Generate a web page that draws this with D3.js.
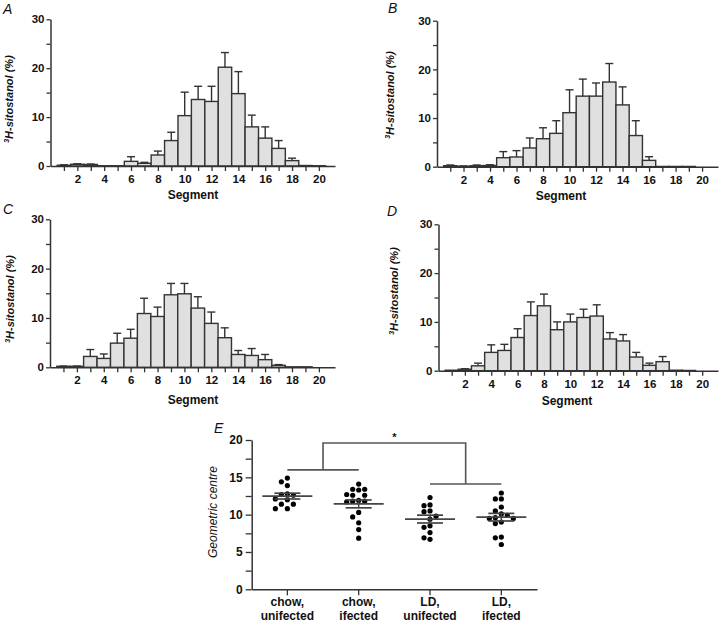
<!DOCTYPE html>
<html>
<head>
<meta charset="utf-8">
<script src="https://cdn.jsdelivr.net/npm/d3@7/dist/d3.min.js"></script>
<style>
  html, body { margin: 0; padding: 0; background: #fff; }
  svg { display: block; font-family: "Liberation Sans", Arial, sans-serif; }
</style>
</head>
<body>
<svg id="chart" width="720" height="624"></svg>
<script>
// ---------------- DATA ----------------
const segments = [1,2,3,4,5,6,7,8,9,10,11,12,13,14,15,16,17,18,19,20];
const segmentTickLabels = [2,4,6,8,10,12,14,16,18,20];
const histTicks = [0,5,10,15,20,25,30];
const histTickLabels = [0,10,20,30];

const meanA = [0.15,0.35,0.3,0.05,0.05,0.95,0.55,2.25,5.2,10.3,13.6,13.2,20.2,14.8,8.0,5.7,3.6,1.1,0.1,0.05];
const semA  = [0.1,0.1,0.1,0,0,0.95,0.2,0.8,1.7,4.8,2.7,3.1,3.0,4.5,2.4,2.3,1.6,0.5,0,0];

const meanB = [0.2,0.1,0.2,0.25,1.85,2.0,3.85,5.75,6.85,11.1,14.5,14.5,17.4,12.7,6.4,1.3,0.05,0.05,0.05,0];
const semB  = [0.15,0.05,0.15,0.15,1.25,1.3,2.05,2.25,2.6,4.7,3.5,2.7,3.8,3.7,3.05,0.75,0,0,0,0];

const meanC = [0.2,0.2,2.2,1.8,4.9,5.9,10.9,10.3,14.7,14.9,12.0,8.9,6.0,2.6,2.4,1.55,0.4,0.1,0.1,0];
const semC  = [0.05,0.05,1.4,0.9,2.0,1.8,3.1,1.9,2.3,2.1,2.3,2.3,2.0,0.8,1.4,1.05,0.15,0,0,0];

const meanD = [0.1,0.3,1.0,3.75,4.15,6.8,11.3,13.3,8.4,10.0,10.9,11.2,6.5,6.1,2.8,1.1,1.85,0.1,0.05,0];
const semD  = [0,0.1,0.55,1.55,1.25,1.8,2.8,2.4,1.6,1.6,1.7,2.3,1.3,1.3,0.95,0.45,1.05,0,0,0];

const groupLine1 = ["chow,","chow,","LD,","LD,"];
const groupLine2 = ["unifected","ifected","unifected","ifected"];
const groupKeys = ["chow, unifected","chow, ifected","LD, unifected","LD, ifected"];
const gcChowUninf = [14.9,14.4,13.9,12.8,12.7,12.6,12.1,12.0,11.4,11.4,10.8,10.8];
const gcChowInf   = [14.1,13.4,13.4,13.3,12.7,12.6,12.6,11.9,11.8,11.8,11.7,10.3,9.7,8.9,8.0,6.85];
const gcLDUninf   = [12.3,11.3,11.2,10.5,10.4,9.8,9.4,8.5,8.3,7.6,6.9,6.7];
const gcLDInf     = [12.9,12.1,12.1,11.0,10.5,10.1,9.9,9.6,9.5,9.5,9.0,8.8,7.0,6.9,6.0];
const gcTicks = [0,2.5,5,7.5,10,12.5,15,17.5,20];
const gcTickLabels = [0,5,10,15,20];
const bracketLevels = [16, 19.6, 14.1]; // left pair, top, right pair
const sigMark = "*";

// ---------------- LAYOUT ----------------
const ink = "#333";
const svg = d3.select("#chart");
svg.append("rect").attr("width",720).attr("height",624).attr("fill","#fff");

const panels = [
  {letter:"A", mean:meanA, sem:semA, x0:50.5, x1:335, yTop:19.3, yBot:166,
   lx:3, ly:14, ylx:12.5, yly:99, sx:193, sy:199},
  {letter:"B", mean:meanB, sem:semB, x0:437, x1:718, yTop:20.7, yBot:166.7,
   lx:388, ly:13, ylx:394, yly:95, sx:561, sy:200},
  {letter:"C", mean:meanC, sem:semC, x0:50, x1:335, yTop:219.3, yBot:367.3,
   lx:3, ly:214, ylx:14, yly:299, sx:193, sy:404},
  {letter:"D", mean:meanD, sem:semD, x0:438.5, x1:718, yTop:224.3, yBot:370.7,
   lx:387, ly:216, ylx:398, yly:291, sx:567, sy:405}
];

function styleAxis(g, fs) {
  g.selectAll("path.domain").attr("stroke", ink).attr("stroke-width", 1.5);
  g.selectAll(".tick line").attr("stroke", ink).attr("stroke-width", 1.3);
  g.selectAll(".tick text").attr("fill", "#111").attr("font-size", fs)
    .attr("font-weight", "bold").attr("font-family", "'Liberation Sans', Arial, sans-serif");
}

panels.forEach(p => {
  const g = svg.append("g");
  const x = d3.scaleLinear().domain([0, 21.2]).range([p.x0, p.x1]);
  const y = d3.scaleLinear().domain([0, 30]).range([p.yBot, p.yTop]);
  const data = segments.map((s,i) => ({s, m:p.mean[i], e:p.sem[i]}));

  // bars
  g.selectAll("rect.bar").data(data).join("rect")
    .attr("class","bar")
    .attr("x", d => x(d.s - 0.5))
    .attr("width", d => x(d.s + 0.5) - x(d.s - 0.5))
    .attr("y", d => y(d.m))
    .attr("height", d => y(0) - y(d.m))
    .attr("fill", "#e0e0e0").attr("stroke", ink).attr("stroke-width", 1.4);

  // error bars (upper only)
  const eg = g.selectAll("g.err").data(data.filter(d => d.e > 0)).join("g").attr("class","err");
  eg.append("line")
    .attr("x1", d => x(d.s)).attr("x2", d => x(d.s))
    .attr("y1", d => y(d.m)).attr("y2", d => y(d.m + d.e))
    .attr("stroke", ink).attr("stroke-width", 1.4);
  eg.append("line")
    .attr("x1", d => x(d.s) - 4).attr("x2", d => x(d.s) + 4)
    .attr("y1", d => y(d.m + d.e)).attr("y2", d => y(d.m + d.e))
    .attr("stroke", ink).attr("stroke-width", 1.4);

  // axes
  const yAxis = d3.axisLeft(y).tickValues(histTicks)
    .tickFormat(d => histTickLabels.includes(d) ? d : "")
    .tickSize(4).tickSizeOuter(0).tickPadding(2);
  const ya = g.append("g").attr("transform", `translate(${p.x0},0)`).call(yAxis);
  styleAxis(ya, 11.5);

  const xAxis = d3.axisBottom(x).tickValues(segments)
    .tickFormat(d => segmentTickLabels.includes(d) ? d : "")
    .tickSize(5).tickSizeOuter(0).tickPadding(4);
  const xa = g.append("g").attr("transform", `translate(0,${p.yBot})`).call(xAxis);
  styleAxis(xa, 11.5);

  // labels
  g.append("text").attr("x", p.lx).attr("y", p.ly)
    .attr("font-size", 14).attr("font-style", "italic").attr("fill", "#111").text(p.letter);

  const yl = g.append("text")
    .attr("transform", `translate(${p.ylx},${p.yly}) rotate(-90)`)
    .attr("text-anchor", "middle").attr("font-size", 11)
    .attr("font-weight", "bold").attr("font-style", "italic").attr("fill", "#111");
  yl.append("tspan").attr("font-size", 7).attr("dy", -4).text("3");
  yl.append("tspan").attr("dy", 4).text("H-sitostanol (%)");

  g.append("text").attr("x", p.sx).attr("y", p.sy)
    .attr("text-anchor", "middle").attr("font-size", 12)
    .attr("font-weight", "bold").attr("fill", "#111").text("Segment");
});

// ---------------- PANEL E ----------------
const gcGroups = [gcChowUninf, gcChowInf, gcLDUninf, gcLDInf];
const ge = svg.append("g");
const xE = d3.scaleBand().domain(groupKeys).range([251.7, 537]).padding(0);
const yE = d3.scaleLinear().domain([0, 20]).range([589.3, 440]);
const cx = k => xE(k) + xE.bandwidth() / 2;

// dots (simple beeswarm)
const dotR = 2.6, step = 6;
gcGroups.forEach((vals, gi) => {
  const placed = [];
  const sorted = vals.slice().sort((a,b) => b - a);
  sorted.forEach(v => {
    const py = yE(v);
    const offs = [0,-1,1,-2,2,-3,3,-4,4];
    let chosen = 0;
    for (const o of offs) {
      const px = o * step;
      if (placed.every(q => Math.hypot(q.px - px, q.py - py) >= step - 0.2)) { chosen = px; break; }
    }
    placed.push({px: chosen, py, v});
  });
  ge.selectAll(null).data(placed).join("circle")
    .attr("cx", d => cx(groupKeys[gi]) + d.px)
    .attr("cy", d => d.py)
    .attr("r", dotR).attr("fill", "#000");

  const m = d3.mean(vals);
  const se = d3.deviation(vals) / Math.sqrt(vals.length);
  const c = cx(groupKeys[gi]);
  const lc = "#444";
  ge.append("line").attr("x1", c - 25).attr("x2", c + 25).attr("y1", yE(m)).attr("y2", yE(m))
    .attr("stroke", lc).attr("stroke-width", 1.7);
  [m - se, m + se].forEach(v => {
    ge.append("line").attr("x1", c - 13).attr("x2", c + 13).attr("y1", yE(v)).attr("y2", yE(v))
      .attr("stroke", lc).attr("stroke-width", 1.7);
  });
  ge.append("line").attr("x1", c).attr("x2", c).attr("y1", yE(m - se)).attr("y2", yE(m + se))
    .attr("stroke", lc).attr("stroke-width", 1.4);
});

// significance bracket
const mid12 = (cx(groupKeys[0]) + cx(groupKeys[1])) / 2;
const mid34 = (cx(groupKeys[2]) + cx(groupKeys[3])) / 2;
const bc = "#555";
const bp = d3.path();
bp.moveTo(cx(groupKeys[0]), yE(bracketLevels[0])); bp.lineTo(cx(groupKeys[1]), yE(bracketLevels[0]));
bp.moveTo(mid12, yE(bracketLevels[0])); bp.lineTo(mid12, yE(bracketLevels[1]));
bp.lineTo(mid34, yE(bracketLevels[1])); bp.lineTo(mid34, yE(bracketLevels[2]));
bp.moveTo(cx(groupKeys[2]), yE(bracketLevels[2])); bp.lineTo(cx(groupKeys[3]), yE(bracketLevels[2]));
ge.append("path").attr("d", bp.toString()).attr("fill", "none").attr("stroke", bc).attr("stroke-width", 1.6);
ge.append("text").attr("x", (mid12 + mid34) / 2).attr("y", yE(bracketLevels[1]) - 2)
  .attr("text-anchor", "middle").attr("font-size", 11).attr("font-weight", "bold").attr("fill", "#111").text(sigMark);

// axes E
const yAxisE = d3.axisLeft(yE).tickValues(gcTicks)
  .tickFormat(d => gcTickLabels.includes(d) ? d : "")
  .tickSize(6).tickSizeOuter(0).tickPadding(3);
const yaE = ge.append("g").attr("transform", `translate(251.7,0)`).call(yAxisE);
styleAxis(yaE, 12);

const xAxisE = d3.axisBottom(xE).tickFormat("").tickSize(6).tickSizeOuter(0);
const xaE = ge.append("g").attr("transform", `translate(0,589.3)`).call(xAxisE);
styleAxis(xaE, 12);
xaE.selectAll(".tick text").remove();
groupKeys.forEach((k, i) => {
  const t = ge.append("text").attr("text-anchor", "middle").attr("font-size", 12)
    .attr("font-weight", "bold").attr("fill", "#111");
  t.append("tspan").attr("x", cx(k)).attr("y", 605.5).text(groupLine1[i]);
  t.append("tspan").attr("x", cx(k)).attr("y", 620).text(groupLine2[i]);
});

ge.append("text").attr("x", 214).attr("y", 433).attr("font-size", 14)
  .attr("font-style", "italic").attr("fill", "#111").text("E");
ge.append("text").attr("transform", "translate(217,512) rotate(-90)")
  .attr("text-anchor", "middle").attr("font-size", 12).attr("font-style", "italic")
  .attr("fill", "#111").text("Geometric centre");
</script>
</body>
</html>
